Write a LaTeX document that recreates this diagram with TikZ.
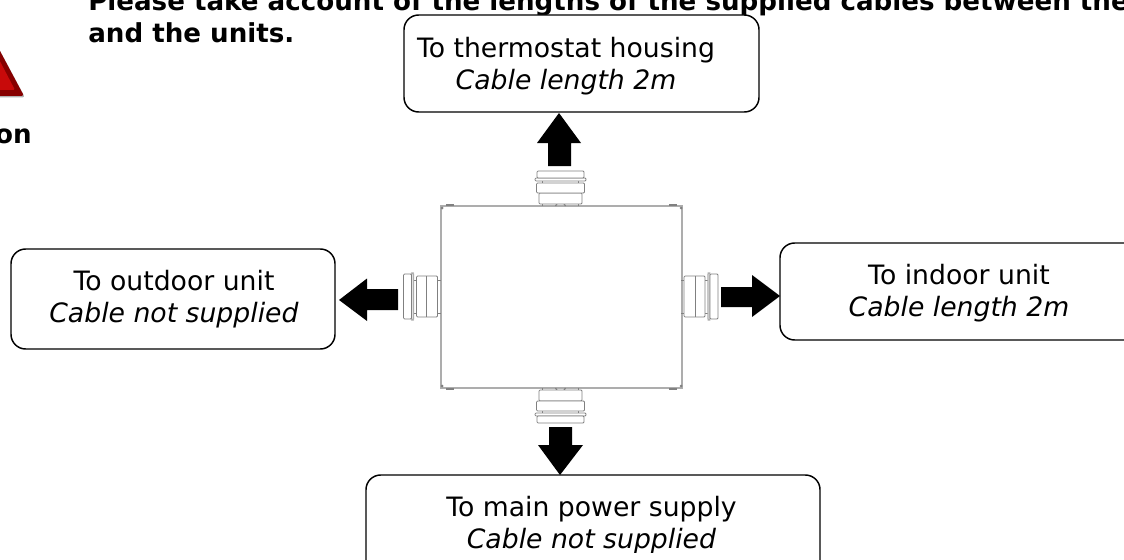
\documentclass[tikz,border=0pt]{standalone}
\usepackage{fontspec}
\setmainfont{DejaVu Sans}
\definecolor{partgray}{gray}{0.5}
\definecolor{boxgray}{gray}{0.68}
\definecolor{warnred}{RGB}{200,10,10}
\definecolor{warndark}{RGB}{135,0,0}
\tikzset{
 x=0.75pt,y=-0.75pt,
 labelbox/.style={draw=black,line width=1.1pt,rounded corners=11pt,fill=white},
 boxtext/.style={align=center,font=\fontsize{20pt}{24.2pt}\selectfont,inner sep=0pt},
 headtext/.style={font=\fontsize{19.6pt}{24pt}\selectfont\bfseries,inner sep=0pt},
 part/.style={draw=partgray,line width=0.6pt,rounded corners=0.8pt,fill=white},
 thinpart/.style={draw=partgray,line width=0.6pt},
 housing/.style={draw=boxgray,line width=1pt},
 bigarrow/.style={fill=black,draw=none}
}
\newcommand{\vgland}{%
 \draw[thinpart] (-18,0) -- (-18,-3) (18,0) -- (18,-3) (-18,-23) -- (-18,-26) (18,-23) -- (18,-26);
 \draw[thinpart,line width=0.9pt] (-5,0) -- (-3,-3) -- (3,-3) -- (5,0);
 \draw[part] (-21.5,-2) rectangle (21.5,-13);
 \draw[part] (-24,-13) rectangle (24,-23);
 \draw[part] (-25.5,-25) rectangle (25.5,-28);
 \draw[part] (-23.5,-28) rectangle (23.5,-35);
}
\newcommand{\hgland}{%
 \draw[thinpart] (-16.5,0) -- (-16.5,-3) (16.5,0) -- (16.5,-3) (-16.5,-24) -- (-16.5,-27) (16.5,-24) -- (16.5,-27);
 \draw[part] (-20.5,-3) rectangle (20.5,-24);
 \draw[thinpart] (-20.5,-14) -- (20.5,-14);
 \draw[part,draw=boxgray,line width=0.9pt] (-23.5,-27) rectangle (23.5,-29);
 \draw[part] (-22.5,-29) rectangle (22.5,-37);
}
\begin{document}
\begin{tikzpicture}
\useasboundingbox (0,0) rectangle (1124,560);
\clip (0,0) rectangle (1124,560);
\fill[white] (0,0) rectangle (1124,560);

% warning sign
\fill[black!30, rounded corners=2pt] (-40,97.5) -- (25,97.5) -- (-7,38) -- cycle;
\fill[warndark, rounded corners=2pt] (-40,96) -- (24,96) -- (-8,36) -- cycle;
\fill[warnred, rounded corners=1pt] (-32,90) -- (15,90) -- (-8,46) -- cycle;

\node[headtext,anchor=base east] (caution) at (32,143) {Caution};
\node[headtext,anchor=base west] (please) at (88,11) {Please take account of the lengths of the supplied cables between the};
\node[headtext,anchor=base west] (units) at (88,43) {and the units.};

% housing
\draw[housing] (441,206) rectangle (682,388);
\foreach \cx/\cy/\sx/\sy in {441/206/1/1,682/206/-1/1,441/388/1/-1,682/388/-1/-1}{
  \draw[partgray,line width=0.9pt] (\cx+\sx*5,\cy-\sy*1) -- (\cx+\sx*13,\cy-\sy*1);
  \fill[partgray] (\cx+\sx*1,\cy+\sy*2) circle (1.5);
}

% glands
\begin{scope}[shift={(560.5,206)}] \vgland \end{scope}
\begin{scope}[shift={(560.5,388)},yscale=-1] \vgland \end{scope}
\begin{scope}[shift={(440.5,296.5)},rotate=90] \hgland \end{scope}
\begin{scope}[shift={(681,296.5)},rotate=-90] \hgland \end{scope}

% label boxes
\draw[labelbox] (404,15) rectangle (759,112);
\draw[labelbox] (11,249) rectangle (335,349);
\draw[labelbox] (780,243) rectangle (1140,340);
\draw[labelbox] (366,475) rectangle (820,590);

\node[boxtext] (top) at (566,66) {To thermostat housing\\\textit{Cable length 2m}};
\node[boxtext] (left) at (174,299.5) {To outdoor unit\\\textit{Cable not supplied}};
\node[boxtext] (right) at (959,293.5) {To indoor unit\\\textit{Cable length 2m}};
\begin{scope}
\clip (360,470) rectangle (830,552);
\node[boxtext] (bottom) at (591.5,525.5) {To main power supply\\\textit{Cable not supplied}};
\end{scope}

% arrows
\fill[bigarrow] (548,166) -- (571,166) -- (571,143) -- (581,143) -- (559,113) -- (537,143) -- (548,143) -- cycle;
\fill[bigarrow] (549,427) -- (572,427) -- (572,445) -- (583,445) -- (560,475) -- (538,445) -- (549,445) -- cycle;
\fill[bigarrow] (398,289) -- (398,310) -- (367,310) -- (367,321) -- (339,300) -- (367,278.5) -- (367,289) -- cycle;
\fill[bigarrow] (721,287) -- (721,307) -- (752,307) -- (752,317) -- (780,296) -- (752,275) -- (752,287) -- cycle;
\end{tikzpicture}
\end{document}
